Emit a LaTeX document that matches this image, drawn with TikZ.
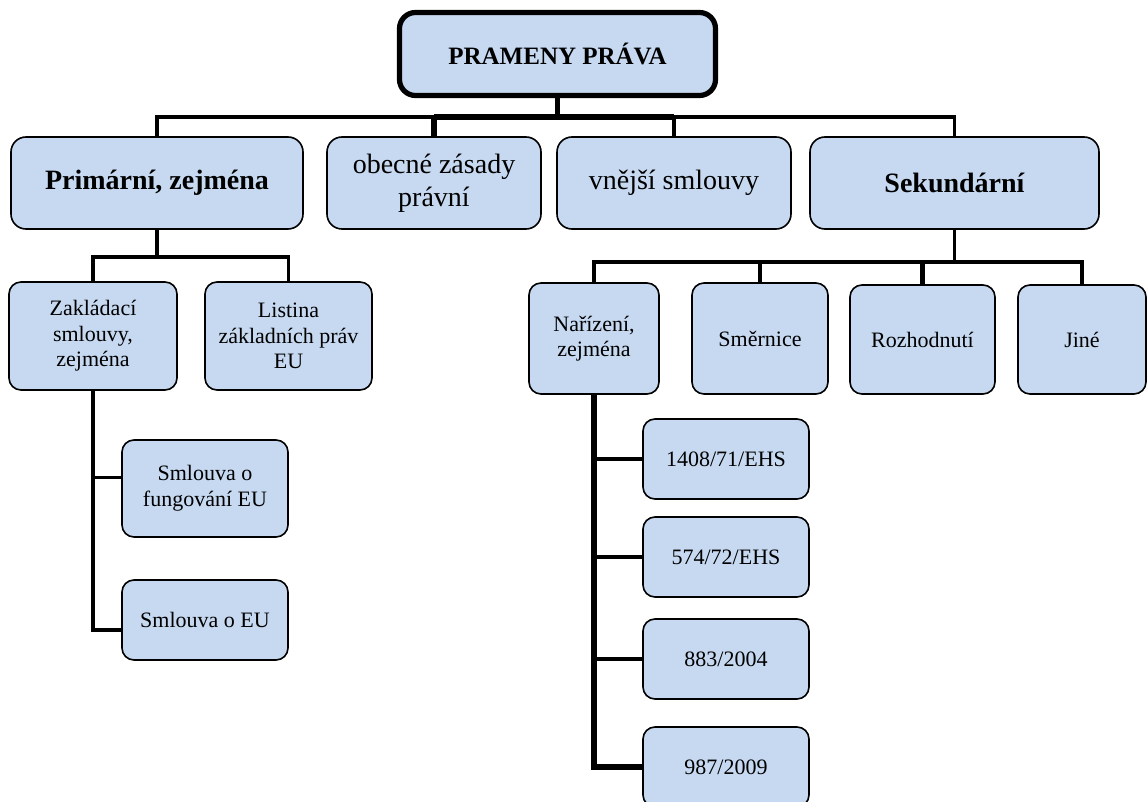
\documentclass[tikz,border=0pt]{standalone}
\usepackage{fontspec}
\setmainfont{Liberation Serif}
\usetikzlibrary{positioning}
\definecolor{boxblue}{HTML}{C6D9F1}
\tikzset{
  box/.style={draw, fill=boxblue, rounded corners=6pt, line width=0.8pt, align=center, inner sep=2pt},
  topbox/.style={box, line width=2.6pt, rounded corners=8pt, minimum width=158pt, minimum height=41.5pt, font=\fontsize{12.5}{15}\selectfont\bfseries},
  mainbox/.style={box, rounded corners=7.5pt, minimum height=46pt, font=\fontsize{14}{16.5}\selectfont},
  subbox/.style={box, font=\fontsize{11}{12.8}\selectfont},
  leafbox/.style={subbox, minimum width=83pt, minimum height=40pt},
  conn/.style={line width=1.8pt},
  thickconn/.style={line width=2.6pt}
}

\begin{document}
\begin{tikzpicture}[x=0.5pt, y=-0.5pt]
  \useasboundingbox (0,0) rectangle (1147,802);

  % top
  \node (title) [topbox] at (557.5,54) {PRAMENY PRÁVA};

  % first level
  \node (prim) [mainbox, minimum width=146pt, font=\fontsize{14}{16.5}\selectfont\bfseries] at (157,183) {Primární, zejména};
  \node (zasady) [mainbox, minimum width=107pt] at (434,183) {obecné zásady\\právní};
  \node (vnejsi) [mainbox, minimum width=117pt] at (674,183) {vnější smlouvy};
  \node (sek) [mainbox, minimum width=144.5pt, font=\fontsize{14}{16.5}\selectfont\bfseries] at (954.5,183) {Sekundární};

  % primary law
  \node (zaklad) [subbox, minimum width=84pt, minimum height=54pt] at (93,336) {Zakládací\\smlouvy,\\zejména};
  \node (listina) [subbox, minimum width=83.5pt, minimum height=54pt] at (288.5,336) {Listina\\základních práv\\EU};
  \node (sfeu) [leafbox, minimum height=48.5pt] at (205,488.5) {Smlouva o\\fungování EU};
  \node (seu) [leafbox] at (205,620) {Smlouva o EU};

  % secondary law
  \node (narizeni) [subbox, minimum width=65pt, minimum height=55.5pt] at (594,338.5) {Nařízení,\\zejména};
  \node (smernice) [subbox, minimum width=68pt, minimum height=55.5pt] at (760,338.5) {Směrnice};
  \node (rozhod) [subbox, minimum width=72.5pt, minimum height=54.5pt] at (922.5,339.5) {Rozhodnutí};
  \node (jine) [subbox, minimum width=64pt, minimum height=54.5pt] at (1082,339.5) {Jiné};

  \node (r1408) [leafbox] at (726,459) {1408/71/EHS};
  \node (r574) [leafbox] at (726,557) {574/72/EHS};
  \node (r883) [leafbox] at (726,659) {883/2004};
  \node (r987) [leafbox] at (726,767) {987/2009};

  % connectors
  \coordinate (bus1) at (557.5,117);
  \coordinate (bus2) at (157,257);
  \coordinate (bus3) at (954.5,262);

  \draw[thickconn] (title.south) -- (bus1);
  \draw[conn] (prim.north) |- (bus1) -| (sek.north);
  \draw[thickconn] (zasady.north |- bus1) -- (vnejsi.north |- bus1);
  \draw[thickconn] (zasady.north) -- (zasady.north |- bus1);
  \draw[conn] (vnejsi.north) -- (vnejsi.north |- bus1);

  \draw[conn] (prim.south) -- (bus2);
  \draw[conn] (zaklad.north) |- (bus2) -| (listina.north);
  \draw[conn] (zaklad.south) |- ([yshift=5.5pt]sfeu.west);
  \draw[conn] (zaklad.south) |- ([yshift=-5pt]seu.west);

  \draw[conn] (sek.south) -- (bus3);
  \draw[conn] (narizeni.north) |- (bus3) -| (jine.north);
  \draw[conn] (smernice.north) -- (smernice.north |- bus3);
  \draw[thickconn] (rozhod.north) -- (rozhod.north |- bus3);

  \draw[thickconn] (narizeni.south) |- (r987.west);
  \draw[conn] (narizeni.south) |- (r1408.west);
  \draw[conn] (narizeni.south) |- (r574.west);
  \draw[conn] (narizeni.south) |- (r883.west);
\end{tikzpicture}
\end{document}
